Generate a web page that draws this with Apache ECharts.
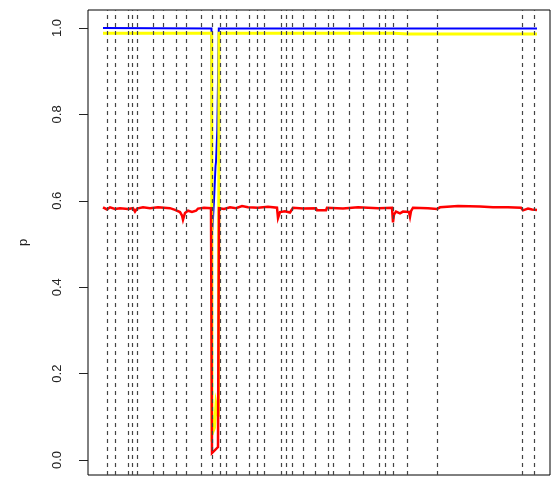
<!DOCTYPE html>
<html>
<head>
<meta charset="utf-8">
<script src="https://cdn.jsdelivr.net/npm/echarts@6/dist/echarts.min.js"></script>
<style>
  html, body { margin: 0; padding: 0; background: #fff; }
  #chart { width: 552px; height: 477px; }
</style>
</head>
<body>
<div id="chart"></div>
<script>
// positions along x (arbitrary position units), values p
const yTicks = [0, 0.2, 0.4, 0.6, 0.8, 1.0]

const breaks = [19, 27, 40, 44.5, 49, 65, 75.5, 88, 98, 113, 124, 132, 138.5, 148, 161, 169.5, 176,
  193.5, 198.5, 204, 215.5, 227, 240, 245, 261.5, 275.5, 291, 297, 305.5, 319.5, 349.5, 434, 446]

const bluePts = [[15, 1.0], [123.5, 0.999], [124.3, 0.532], [126, 0.6], [127.5, 0.68], [128, 0.69],
  [129.3, 0.764], [130.8, 0.999], [449, 0.999]]

const yellowPts = [[15, 0.988], [123.7, 0.988], [124, 0.06], [126.5, 0.075], [128, 0.13], [130.5, 0.1],
  [131, 0.988], [306, 0.988], [307, 0.984], [320, 0.986], [449, 0.986]]

const redPts = [[15, 0.585], [17, 0.588], [19, 0.58], [22, 0.585], [27, 0.581], [32, 0.583], [40, 0.581],
  [45, 0.583], [47, 0.575], [49, 0.582], [55, 0.585], [62, 0.583], [70, 0.585], [82, 0.583], [87, 0.579],
  [92, 0.574], [94, 0.566], [95, 0.556], [97, 0.572], [100, 0.577], [104, 0.574], [108, 0.577],
  [110, 0.582], [116, 0.584], [123, 0.583], [124, 0.016], [130, 0.03], [131, 0.583], [136, 0.581],
  [142, 0.585], [148, 0.583], [154, 0.588], [160, 0.585], [170, 0.584], [180, 0.586], [189, 0.584],
  [190, 0.56], [192, 0.574], [197, 0.576], [202, 0.573], [205, 0.584], [215, 0.582], [228, 0.583],
  [229, 0.578], [238, 0.578], [239, 0.584], [255, 0.582], [270, 0.585], [290, 0.583], [304, 0.584],
  [305, 0.55], [306, 0.568], [308, 0.575], [312, 0.571], [315, 0.575], [321, 0.574], [322, 0.563],
  [323, 0.576], [325, 0.584], [340, 0.583], [349, 0.581], [352, 0.585], [370, 0.588], [392, 0.587],
  [405, 0.585], [420, 0.585], [433, 0.584], [435, 0.578], [440, 0.582], [444, 0.58], [446, 0.583],
  [449, 0.579]]

const chart = echarts.init(document.getElementById('chart'))

function lineSeries(name, data, color, width, z) {
  return {
    name, type: 'line', data, z,
    showSymbol: false, symbol: 'none', animation: false, silent: true,
    lineStyle: { color, width, join: 'miter' },
  }
}

chart.setOption({
  backgroundColor: '#fff',
  animation: false,
  textStyle: { fontFamily: 'Liberation Sans, Arial, sans-serif' },
  grid: { left: 88, right: 2, top: 10, bottom: 2, show: true, borderColor: '#000', borderWidth: 1 },
  xAxis: { type: 'value', min: 0, max: 462, show: false },
  yAxis: {
    type: 'value', min: -0.0347, max: 1.0417,
    name: 'p', nameLocation: 'middle', nameRotate: 90, nameGap: 58,
    nameTextStyle: { color: '#222', fontSize: 13 },
    axisLine: { show: false },
    splitLine: { show: false },
    axisTick: { show: true, length: 9, customValues: yTicks, lineStyle: { color: '#222' } },
    axisLabel: {
      customValues: yTicks, rotate: 90, margin: 24, fontSize: 13, color: '#222',
      formatter: v => v.toFixed(1),
    },
  },
  series: [
    lineSeries('blue', bluePts, '#0000ff', 2, 1),
    lineSeries('yellow', yellowPts, '#ffff00', 3, 2),
    lineSeries('red', redPts, '#ff0000', 2.5, 3),
    {
      type: 'line', data: [], z: 10, silent: true,
      markLine: {
        silent: true, symbol: ['none', 'none'], label: { show: false }, animation: false,
        lineStyle: { color: '#444', width: 1.2, type: [4, 4] },
        data: breaks.map(x => ({ xAxis: x })),
      },
    },
  ],
})
</script>
</body>
</html>
